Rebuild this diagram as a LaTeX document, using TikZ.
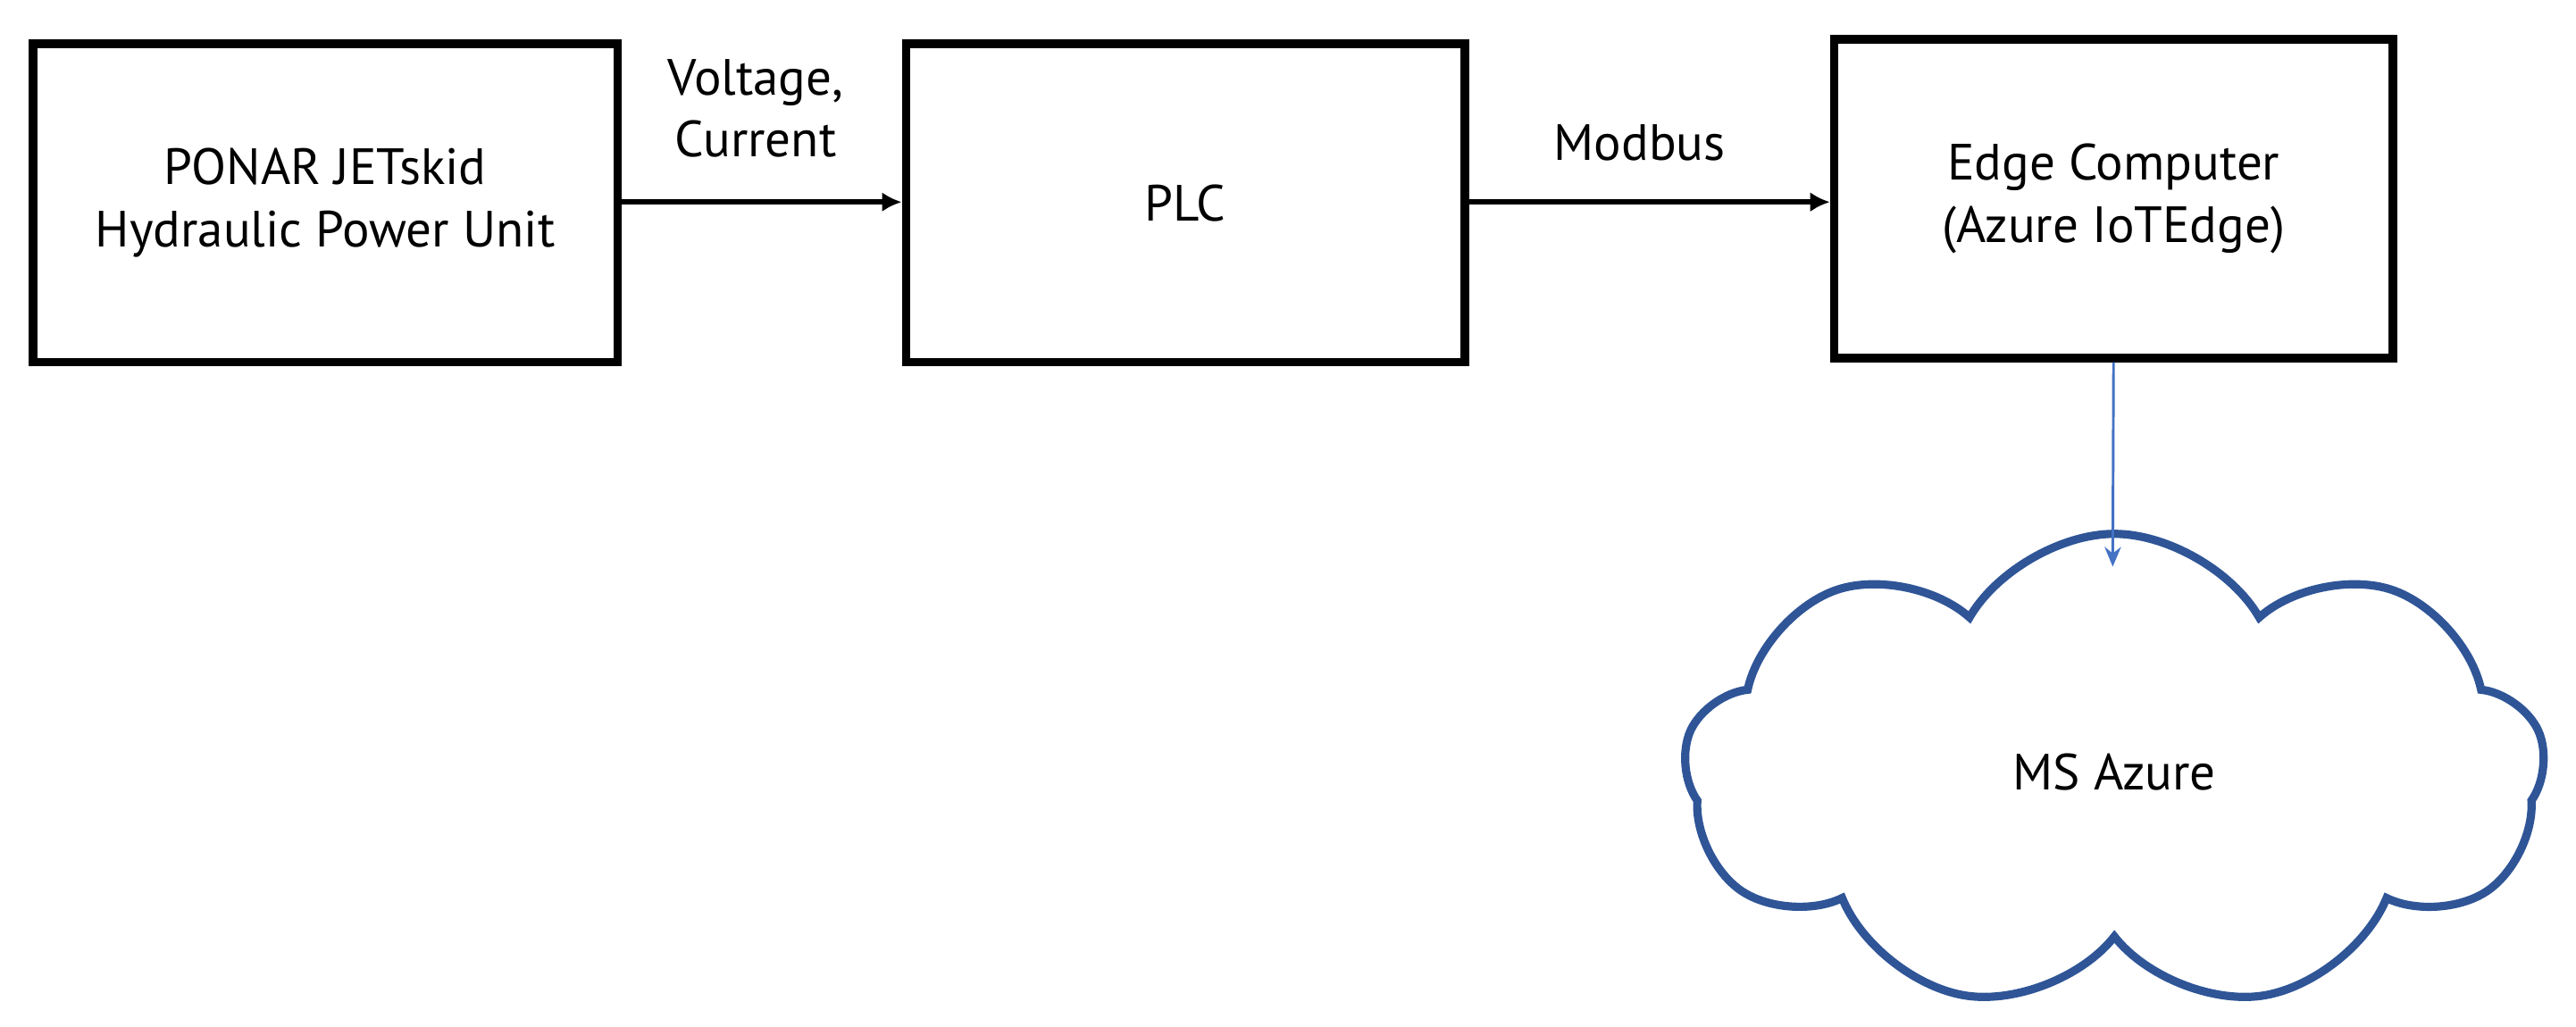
\documentclass[tikz,border=0pt]{standalone}
\usepackage{fontspec}
\setmainfont{PT Sans}
\usetikzlibrary{shapes.symbols,arrows.meta}
\definecolor{cloudblue}{RGB}{47,85,151}
\definecolor{arrblue}{RGB}{68,114,196}
\begin{document}
\begin{tikzpicture}[x=0.5pt,y=-0.5pt,
  box/.style={draw,line width=2.6pt,minimum width=170pt,minimum height=97pt,align=center,font=\fontsize{15.5}{19}\selectfont,inner sep=0pt},
  lbl/.style={align=center,font=\fontsize{15.5}{19}\selectfont},
  arr/.style={line width=1.5pt,-{Latex[length=6pt,width=6pt]}}]
\useasboundingbox (0,0) rectangle (1568,625);
\node[box,minimum width=178pt] (a) at (198,123.5) {PONAR JETskid\\Hydraulic Power Unit};
\node[box] (b) at (721.5,123.5) {PLC};
\node[box] (c) at (1286.5,121) {Edge Computer\\(Azure IoTEdge)};
\node[cloud,draw=cloudblue,line width=2.5pt,cloud puffs=9,cloud puff arc=120,aspect=1.9,minimum width=262pt,minimum height=145pt,font=\fontsize{15.5}{19}\selectfont] (d) at (1287,470) {MS Azure};
\node[lbl] (l1) at (460,66) {Voltage,\\Current};
\node[lbl] (l2) at (998,87) {Modbus};
\draw[arr] (a.east |- 0,123) -- (b.west |- 0,123);
\draw[arr] (b.east |- 0,123) -- (c.west |- 0,123);
\coordinate (e) at (1286,345);
\draw[arrblue,line width=0.8pt,-{Stealth[length=6pt,width=5pt]}] (c.south) -- (e);
\end{tikzpicture}
\end{document}
